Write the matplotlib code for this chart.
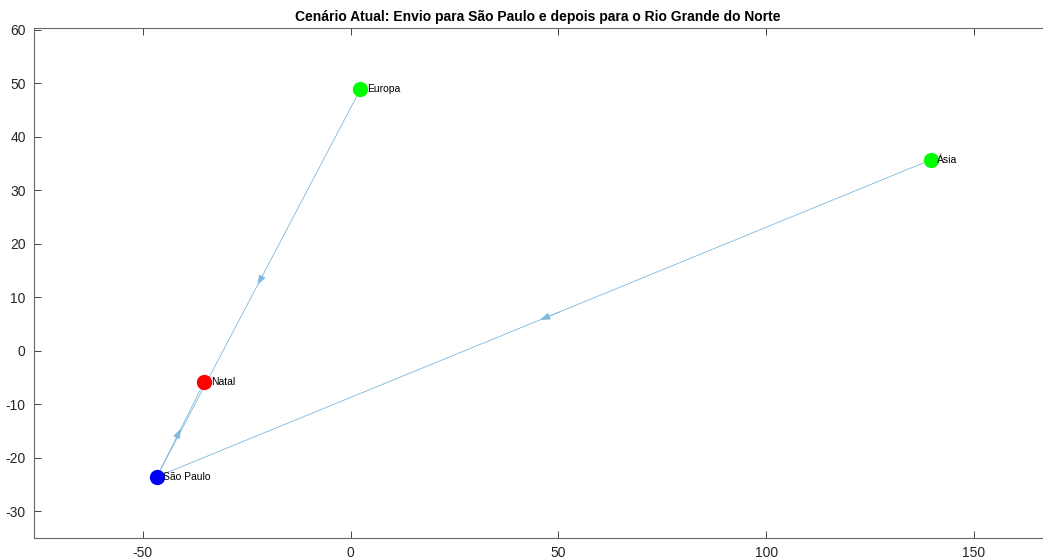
import matplotlib
matplotlib.use("Agg")
import matplotlib.pyplot as plt

plt.rcParams['font.family'] = ['Liberation Sans', 'DejaVu Sans']
plt.rcParams['axes.unicode_minus'] = False

# Data
node_names = ["São Paulo", "Natal", "Europa", "Ásia"]
node_lon = [-46.63, -35.20, 2.35, 139.69]
node_lat = [-23.55, -5.79, 48.86, 35.69]
node_colors = ["#0000ff", "#ff0000", "#00ff00", "#00ff00"]
edges_src = ["Europa", "Ásia", "São Paulo"]
edges_dst = ["São Paulo", "São Paulo", "Natal"]
title = "Cenário Atual: Envio para São Paulo e depois para o Rio Grande do Norte"
xticks = [-50, 0, 50, 100, 150]
yticks = [-30, -20, -10, 0, 10, 20, 30, 40, 50, 60]

W, H = 1043, 559
fig = plt.figure(figsize=(W / 100, H / 100), dpi=100)
left, right, top, bottom = 34, 1060, 27.5, 537.5
ax = fig.add_axes([left / W, 1 - bottom / H, (right - left) / W, (bottom - top) / H])
ax.set_xlim(-76.2, 170.7)
ax.set_ylim(-34.9, 60.4)

edge_color = (0.5, 0.7235, 0.8705)  # MATLAB default edge color at 50% alpha on white
idx = {n: i for i, n in enumerate(node_names)}
for s, d in zip(edges_src, edges_dst):
    x0, y0 = node_lon[idx[s]], node_lat[idx[s]]
    x1, y1 = node_lon[idx[d]], node_lat[idx[d]]
    ax.plot([x0, x1], [y0, y1], color=edge_color, lw=0.6, zorder=1)
    mx, my = (x0 + x1) / 2, (y0 + y1) / 2
    ax.annotate("", xy=(mx + (x1 - x0) * 0.005, my + (y1 - y0) * 0.005),
                xytext=(mx - (x1 - x0) * 0.02, my - (y1 - y0) * 0.02),
                arrowprops=dict(arrowstyle="-|>,head_length=0.6,head_width=0.22", color=edge_color, lw=0.6,
                                shrinkA=0, shrinkB=0), zorder=2)

for name, x, y, c in zip(node_names, node_lon, node_lat, node_colors):
    ax.plot(x, y, "o", ms=10, color=c, mec=c, zorder=3)
    ax.annotate(name, (x, y), xytext=(4.5, 0), textcoords="offset points",
                fontsize=7.5, va="center", ha="left", color="black", zorder=4)

ax.set_xticks(xticks)
ax.set_yticks(yticks)
ax.tick_params(axis="both", which="both", direction="in", length=5, width=0.6,
               colors=(0.15, 0.15, 0.15), labelsize=10, top=True, right=True, pad=6)
for sp in ax.spines.values():
    sp.set_color((0.4, 0.4, 0.4))
    sp.set_linewidth(0.8)
ax.set_title(title, fontsize=10, fontweight="bold", color="black", pad=5,
             x=(538 - left) / (right - left))

fig.savefig("out.png", dpi=100, facecolor="white")
